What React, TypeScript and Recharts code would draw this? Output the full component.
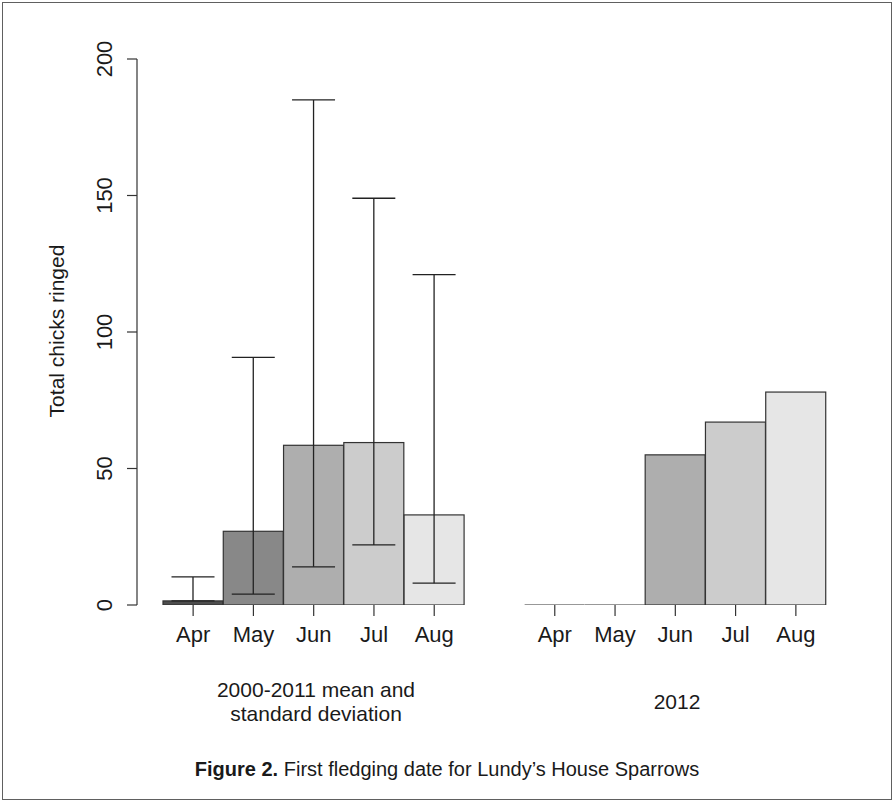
import { Bar, BarChart, Cell, ErrorBar, XAxis, YAxis } from "recharts";

// monthly totals of chicks ringed
const months = ["Apr", "May", "Jun", "Jul", "Aug"];
const meanCounts = [1.5, 27, 58.5, 59.5, 33];
const sdLow = [1.5, 4, 14, 22, 8];
const sdHigh = [10.3, 90.7, 185, 149, 121];
const counts2012 = [0, 0, 55, 67, 78];
const monthFills = ["#4d4d4d", "#888888", "#aeaeae", "#cccccc", "#e6e6e6"];
const yTicks = [0, 50, 100, 150, 200];

const FONT = '"Liberation Sans", Arial, Helvetica, sans-serif';
const INK = "#1a1a1a";

type Row = {
  key: string;
  label: string;
  count: number | null;
  err: [number, number] | null;
  fill: string;
};

// two groups of months with an empty slot between them
const rows: Row[] = [
  ...months.map((m, i) => ({
    key: `mean-${m}`,
    label: m,
    count: meanCounts[i],
    err: [meanCounts[i] - sdLow[i], sdHigh[i] - meanCounts[i]] as [number, number],
    fill: monthFills[i],
  })),
  { key: "gap", label: "", count: null, err: null, fill: "none" },
  ...months.map((m, i) => ({
    key: `2012-${m}`,
    label: m,
    count: counts2012[i],
    err: null,
    fill: monthFills[i],
  })),
];

function BarBox(props: any) {
  const { x, y, width, height, fill, payload } = props;
  if (!payload || !payload.label) return null;
  if (!height) {
    return <line x1={x} x2={x + width} y1={y} y2={y} stroke="#333" strokeWidth={1.2} />;
  }
  return (
    <rect x={x} y={y} width={width} height={height} fill={fill} stroke="#333" strokeWidth={1.2} />
  );
}

function MonthTick({ x, y, payload }: any) {
  const label = rows[payload.index]?.label;
  if (!label) return null;
  return (
    <g>
      <line x1={x} x2={x} y1={y} y2={y + 11} stroke="#333" strokeWidth={1.2} />
      <text x={x} y={y + 37} textAnchor="middle" fontSize={22} fontFamily={FONT} fill={INK}>
        {label}
      </text>
    </g>
  );
}

function CountTick({ x, y, payload }: any) {
  const tx = x - 15;
  return (
    <text
      x={tx}
      y={y}
      transform={`rotate(-90, ${tx}, ${y})`}
      textAnchor="middle"
      fontSize={22}
      fontFamily={FONT}
      fill={INK}
    >
      {payload.value}
    </text>
  );
}

export default function App() {
  return (
    <div
      style={{
        position: "absolute",
        left: 0,
        top: 0,
        width: 894,
        height: 802,
        background: "#fff",
      }}
    >
      <div
        style={{
          position: "absolute",
          left: 2,
          top: 2,
          width: 888,
          height: 796,
          border: "1px solid #606060",
        }}
      />
      <BarChart
        width={894}
        height={802}
        data={rows}
        margin={{ top: 59, right: 68, bottom: 157, left: 57 }}
        barCategoryGap={0}
      >
        <XAxis
          dataKey="key"
          height={40}
          interval={0}
          padding={{ left: 26, right: 0 }}
          axisLine={false}
          tickLine={false}
          tickSize={0}
          tickMargin={0}
          tick={<MonthTick />}
        />
        <YAxis
          domain={[0, 200]}
          ticks={yTicks}
          allowDataOverflow
          width={80}
          tickSize={10}
          tickMargin={0}
          axisLine={{ stroke: "#333", strokeWidth: 1.2 }}
          tickLine={{ stroke: "#333", strokeWidth: 1.2 }}
          tick={<CountTick />}
        />
        <Bar dataKey="count" shape={<BarBox />} isAnimationActive={false}>
          {rows.map((r) => (
            <Cell key={r.key} fill={r.fill} />
          ))}
          <ErrorBar dataKey="err" width={21.5} stroke="#222" strokeWidth={1.3} isAnimationActive={false} />
        </Bar>
      </BarChart>
      <svg
        width={894}
        height={802}
        style={{ position: "absolute", left: 0, top: 0, pointerEvents: "none" }}
        fontFamily={FONT}
        fill={INK}
      >
        <text transform="translate(64, 331) rotate(-90)" textAnchor="middle" fontSize={21}>
          Total chicks ringed
        </text>
        <text x={316} y={697} textAnchor="middle" fontSize={21}>
          2000-2011 mean and
        </text>
        <text x={316} y={721} textAnchor="middle" fontSize={21}>
          standard deviation
        </text>
        <text x={677} y={709} textAnchor="middle" fontSize={21}>
          2012
        </text>
        <text x={447} y={776} textAnchor="middle" fontSize={20}>
          <tspan fontWeight="bold">Figure 2.</tspan> First fledging date for Lundy’s House Sparrows
        </text>
      </svg>
    </div>
  );
}
